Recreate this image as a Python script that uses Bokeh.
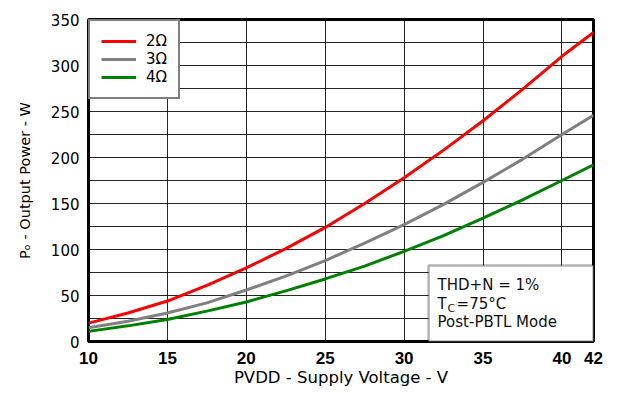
from bokeh.plotting import figure
from bokeh.models import Range1d, FixedTicker, BoxAnnotation, Label
from bokeh.embed import file_html
from bokeh.resources import INLINE

# Data
pvdd = [10, 12.5, 15, 17.5, 20, 22.5, 25, 27.5, 30, 32.5, 35, 37.5, 40, 42]
p_2ohm = [20, 31, 44, 61, 80, 101, 124, 150, 178, 208, 240, 274, 310, 336]
p_3ohm = [15, 22, 31, 42, 56, 71, 88, 107, 127, 149, 173, 198, 225, 246]
p_4ohm = [11, 17, 24, 33, 43, 55, 68, 82, 98, 115, 134, 154, 175, 192]
series_labels = ["2\u03a9", "3\u03a9", "4\u03a9"]
series_colors = ["#ff0000", "#808080", "#008000"]
x_ticks = [10, 15, 20, 25, 30, 35, 40, 42]
y_ticks = [0, 50, 100, 150, 200, 250, 300, 350]
x_grid = [15, 20, 25, 30, 35, 40]
y_grid = [25, 50, 75, 100, 125, 150, 175, 200, 225, 250, 275, 300, 325]

FONT = "DejaVu Sans"

p = figure(width=622, height=392, x_range=Range1d(10, 42), y_range=Range1d(0, 350),
           output_backend="svg", toolbar_location=None,
           min_border_left=88, min_border_right=29, min_border_top=19, min_border_bottom=51)

p.outline_line_color = "black"
p.outline_line_width = 3
p.outline_line_alpha = 1

for ys, lab, col in zip([p_2ohm, p_3ohm, p_4ohm], series_labels, series_colors):
    p.line(pvdd, ys, line_color=col, line_width=3, legend_label=lab)

p.xaxis.ticker = FixedTicker(ticks=x_ticks)
p.yaxis.ticker = FixedTicker(ticks=y_ticks)
p.xgrid.ticker = FixedTicker(ticks=x_grid)
p.ygrid.ticker = FixedTicker(ticks=y_grid)
for g in (p.xgrid, p.ygrid):
    g.grid_line_color = "black"
    g.grid_line_alpha = 0.85
    g.grid_line_width = 1

for ax in (p.xaxis, p.yaxis):
    ax.axis_line_color = None
    ax.major_tick_line_color = None
    ax.minor_tick_line_color = None
    ax.major_tick_in = 0
    ax.major_tick_out = 0
    ax.major_label_text_color = "black"
    ax.axis_label_text_font = FONT
    ax.axis_label_text_font_style = "normal"
    ax.axis_label_text_color = "black"

p.xaxis.major_label_text_font = "Liberation Sans"
p.xaxis.major_label_text_font_size = "17px"
p.xaxis.major_label_text_font_style = "bold"
p.xaxis.major_label_standoff = 10
p.xaxis.axis_label_standoff = 1
p.xaxis.axis_label_text_font_size = "16.5px"
p.yaxis.major_label_text_font = FONT
p.yaxis.major_label_text_font_size = "15px"
p.yaxis.major_label_standoff = 9
p.yaxis.axis_label_standoff = 15
p.yaxis.axis_label_text_font_size = "14.5px"
p.xaxis.axis_label = "PVDD - Supply Voltage - V"
p.yaxis.axis_label = "P\u2092 - Output Power - W"

lg = p.legend[0]
lg.location = "top_left"
lg.margin = 0
lg.padding = 11
lg.spacing = 0
lg.border_line_color = "black"
lg.border_line_width = 2.5
lg.background_fill_color = "white"
lg.background_fill_alpha = 1
lg.glyph_width = 35
lg.glyph_height = 18
lg.label_height = 18
lg.label_standoff = 10
lg.label_text_font = FONT
lg.label_text_font_size = "15px"
lg.label_text_color = "black"

# Conditions box
box = BoxAnnotation(left=31.55, right=42, bottom=0, top=82.6,
                    fill_color="white", fill_alpha=1,
                    line_color="black", line_width=2.5, level="annotation")
p.add_layout(box)

def lbl(text, xo, yo, size="15px"):
    p.add_layout(Label(x=31.55, y=82.6, x_offset=xo, y_offset=yo, text=text,
                       text_font=FONT, text_font_size=size, text_color="#111111",
                       text_baseline="top", text_align="left", level="annotation"))

lbl("THD+N = 1%", 9, -10)
lbl("T", 9, -29)
lbl("C", 19, -36, "11px")
lbl("=75\u00b0C", 28, -29)
lbl("Post-PBTL Mode", 9, -47)

p.add_layout(Label(x=42, y=0, x_offset=-4, y_offset=-43, text="D037",
                   text_font="Liberation Sans", text_font_size="10px", text_color="#a8a8a8",
                   text_baseline="middle", text_align="left"))

open("out.html", "w").write(file_html(p, INLINE))
